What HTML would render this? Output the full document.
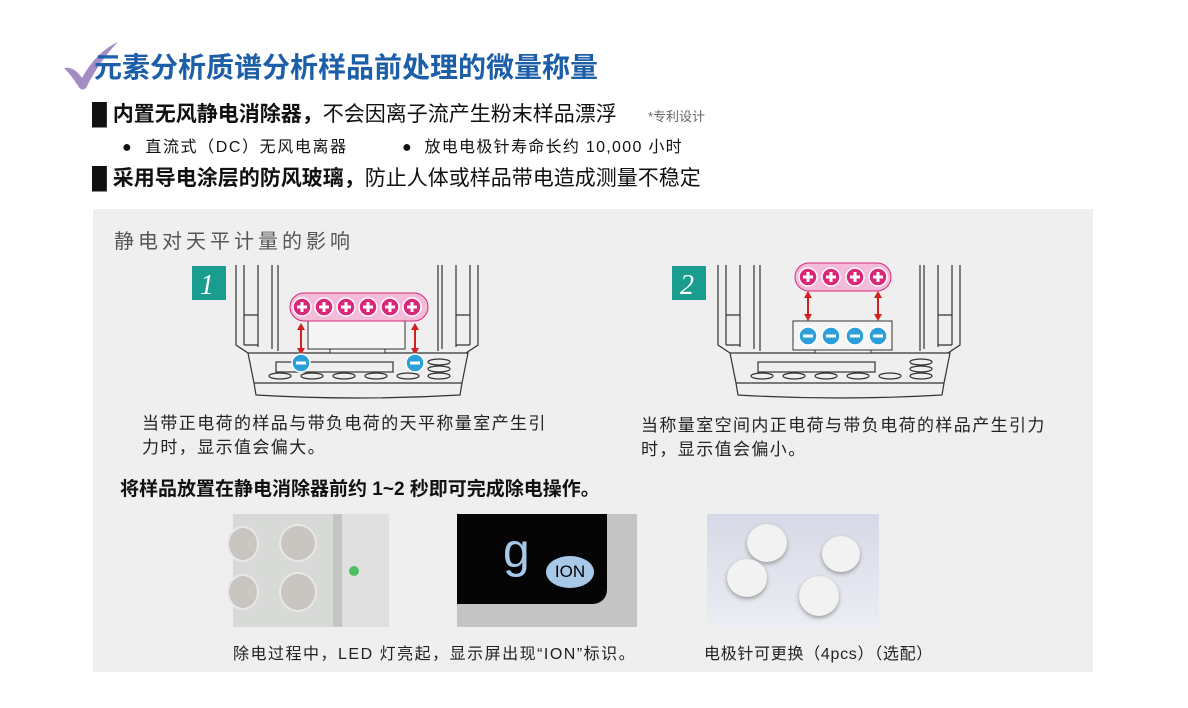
<!DOCTYPE html>
<html><head><meta charset="utf-8"><style>
body{margin:0;width:1188px;height:708px;background:#fff;position:relative;overflow:hidden;font-family:"Liberation Sans","Noto Sans CJK SC",sans-serif;color:#111}
.a{position:absolute;white-space:nowrap}
</style></head><body>
<svg class="a" style="left:60px;top:38px" width="64" height="56"><path d="M4 30 Q14 28 22 40 Q36 14 58 4 Q40 22 26 50 Q22 54 18 48 Q12 38 4 30Z" fill="#a48cc4"/></svg>
<div class="a" style="left:94px;top:46px;font-size:28px;font-weight:bold;color:#1d5ea8">元素分析质谱分析样品前处理的微量称量</div>
<div class="a" style="left:92px;top:98px;font-size:21px"><b>█ 内置无风静电消除器，</b>不会因离子流产生粉末样品漂浮</div>
<div class="a" style="left:648px;top:106px;font-size:13px;color:#666">*专利设计</div>
<div class="a" style="left:122px;top:133px;font-size:16px;letter-spacing:1.6px">●&nbsp; 直流式（DC）无风电离器</div>
<div class="a" style="left:402px;top:133px;font-size:16px;letter-spacing:1.3px">●&nbsp; 放电电极针寿命长约 10,000 小时</div>
<div class="a" style="left:92px;top:162px;font-size:21px"><b>█ 采用导电涂层的防风玻璃，</b>防止人体或样品带电造成测量不稳定</div>
<div class="a" style="left:93px;top:209px;width:1000px;height:463px;background:#efefef"></div>
<div class="a" style="left:114px;top:225px;font-size:20px;color:#555;letter-spacing:4px">静电对天平计量的影响</div>
<svg class="a" style="left:0;top:0" width="1188" height="708">
<defs><g id="bal" fill="none" stroke="#333" stroke-width="1.2">
<path d="M0 0V80L12 88M8 0V80M22 0V82M36 0V84M42 0V86"/>
<path d="M8 50H22M8 80H22"/>
<path d="M242 0V80L230 88M234 0V80M220 0V82M206 0V84M202 0V86"/>
<path d="M220 50H234M220 80H234"/>
<path d="M12 88H232L226 118H18Z"/>
<path d="M18 118L20 130Q122 136 224 130L226 118"/>
<rect x="40" y="97" width="117" height="10"/>
<ellipse cx="44" cy="111" rx="11" ry="3"/><ellipse cx="76" cy="111" rx="11" ry="3"/><ellipse cx="108" cy="111" rx="11" ry="3"/><ellipse cx="140" cy="111" rx="11" ry="3"/><ellipse cx="172" cy="111" rx="11" ry="3"/><ellipse cx="203" cy="111" rx="11" ry="3"/>
<ellipse cx="203" cy="97" rx="11" ry="3"/><ellipse cx="203" cy="104" rx="11" ry="3"/>
</g>
<g id="p"><circle r="9" fill="#d9287a" stroke="#fff" stroke-width="1.5"/><path d="M-5 0H5M0-5V5" stroke="#fff" stroke-width="3"/></g>
<g id="m"><circle r="9" fill="#2a9fd8" stroke="#fff" stroke-width="1.5"/><path d="M-5 0H5" stroke="#fff" stroke-width="3"/></g>
</defs>
<rect x="192" y="266" width="34" height="34" fill="#1a9c8f"/><text x="200" y="294" font-family="Liberation Serif" font-style="italic" font-size="28" fill="#fff">1</text>
<rect x="672" y="266" width="34" height="34" fill="#1a9c8f"/><text x="680" y="294" font-family="Liberation Serif" font-style="italic" font-size="28" fill="#fff">2</text>
<use href="#bal" x="236" y="265"/><use href="#bal" x="718" y="265"/>
<rect x="308" y="321" width="97" height="28" fill="#f5f5f5" stroke="#333"/>
<rect x="330" y="349" width="55" height="4" fill="#f5f5f5" stroke="#333"/>
<rect x="290" y="293" width="138" height="28" rx="14" fill="#f4bcd8" stroke="#d9287a"/>
<use href="#p" x="302" y="307"/><use href="#p" x="324" y="307"/><use href="#p" x="346" y="307"/><use href="#p" x="368" y="307"/><use href="#p" x="390" y="307"/><use href="#p" x="412" y="307"/>
<path d="M301 326V352M415 326V352" stroke="#d02020" stroke-width="2"/>
<path d="M297 330L301 323L305 330ZM297 348L301 355L305 348ZM411 330L415 323L419 330ZM411 348L415 355L419 348Z" fill="#d02020"/>
<use href="#m" x="301" y="363"/><use href="#m" x="415" y="363"/>
<rect x="795" y="263" width="96" height="28" rx="14" fill="#f4bcd8" stroke="#d9287a"/>
<use href="#p" x="808" y="277"/><use href="#p" x="831" y="277"/><use href="#p" x="855" y="277"/><use href="#p" x="878" y="277"/>
<path d="M808 294V318M878 294V318" stroke="#d02020" stroke-width="2"/>
<path d="M804 298L808 291L812 298ZM804 314L808 321L812 314ZM874 298L878 291L882 298ZM874 314L878 321L882 314Z" fill="#d02020"/>
<rect x="793" y="321" width="99" height="29" fill="#f5f5f5" stroke="#333"/>
<rect x="815" y="350" width="56" height="3" fill="#f5f5f5" stroke="#333"/>
<use href="#m" x="808" y="336"/><use href="#m" x="831" y="336"/><use href="#m" x="855" y="336"/><use href="#m" x="878" y="336"/>
</svg>
<div class="a" style="left:142px;top:412px;font-size:17px;letter-spacing:1.4px;line-height:24px;color:#222">当带正电荷的样品与带负电荷的天平称量室产生引<br>力时，显示值会偏大。</div>
<div class="a" style="left:641px;top:414px;font-size:17px;letter-spacing:1.4px;line-height:24px;color:#222">当称量室空间内正电荷与带负电荷的样品产生引力<br>时，显示值会偏小。</div>
<div class="a" style="left:120px;top:474px;font-size:19px;font-weight:bold">将样品放置在静电消除器前约 1~2 秒即可完成除电操作。</div>
<div class="a" style="left:233px;top:514px;width:156px;height:113px;background:linear-gradient(90deg,#d8dad8 0,#d8dad8 64%,#c4c6c4 64%,#c4c6c4 70%,#dfe0df 70%)">
<div class="a" style="left:-6px;top:12px;width:28px;height:32px;border-radius:50%;background:#c9c5c0;border:2px solid #e8e8e8"></div>
<div class="a" style="left:46px;top:10px;width:34px;height:34px;border-radius:50%;background:#c9c5c0;border:2px solid #e8e8e8"></div>
<div class="a" style="left:-6px;top:60px;width:28px;height:32px;border-radius:50%;background:#c9c5c0;border:2px solid #e8e8e8"></div>
<div class="a" style="left:46px;top:58px;width:34px;height:36px;border-radius:50%;background:#c9c5c0;border:2px solid #e8e8e8"></div>
<div class="a" style="left:116px;top:52px;width:10px;height:10px;border-radius:50%;background:#4cc060"></div></div>
<div class="a" style="left:457px;top:514px;width:180px;height:113px;background:#c4c4c4">
<div class="a" style="left:0;top:0;width:150px;height:90px;background:#050505;border-bottom-right-radius:14px"></div>
<div class="a" style="left:46px;top:10px;font-size:48px;color:#a8c8e8">g</div>
<div class="a" style="left:89px;top:42px;width:48px;height:32px;border-radius:50%;background:#a8c8e8;color:#000;font-size:17px;line-height:32px;text-align:center">ION</div></div>
<div class="a" style="left:707px;top:514px;width:172px;height:113px;background:linear-gradient(#d6d8e6,#eceef4)">
<div class="a" style="left:40px;top:10px;width:40px;height:38px;border-radius:50%;background:#f2f2f2;box-shadow:0 2px 4px #999"></div>
<div class="a" style="left:115px;top:22px;width:38px;height:36px;border-radius:50%;background:#f2f2f2;box-shadow:0 2px 4px #999"></div>
<div class="a" style="left:20px;top:45px;width:40px;height:38px;border-radius:50%;background:#f2f2f2;box-shadow:0 2px 4px #999"></div>
<div class="a" style="left:92px;top:62px;width:40px;height:40px;border-radius:50%;background:#f2f2f2;box-shadow:0 2px 4px #999"></div></div>
<div class="a" style="left:233px;top:640px;font-size:16px;letter-spacing:1.5px;color:#222">除电过程中，LED 灯亮起，显示屏出现“ION”标识。</div>
<div class="a" style="left:704px;top:640px;font-size:16px;letter-spacing:0.7px;color:#222">电极针可更换（4pcs）（选配）</div>
</body></html>
